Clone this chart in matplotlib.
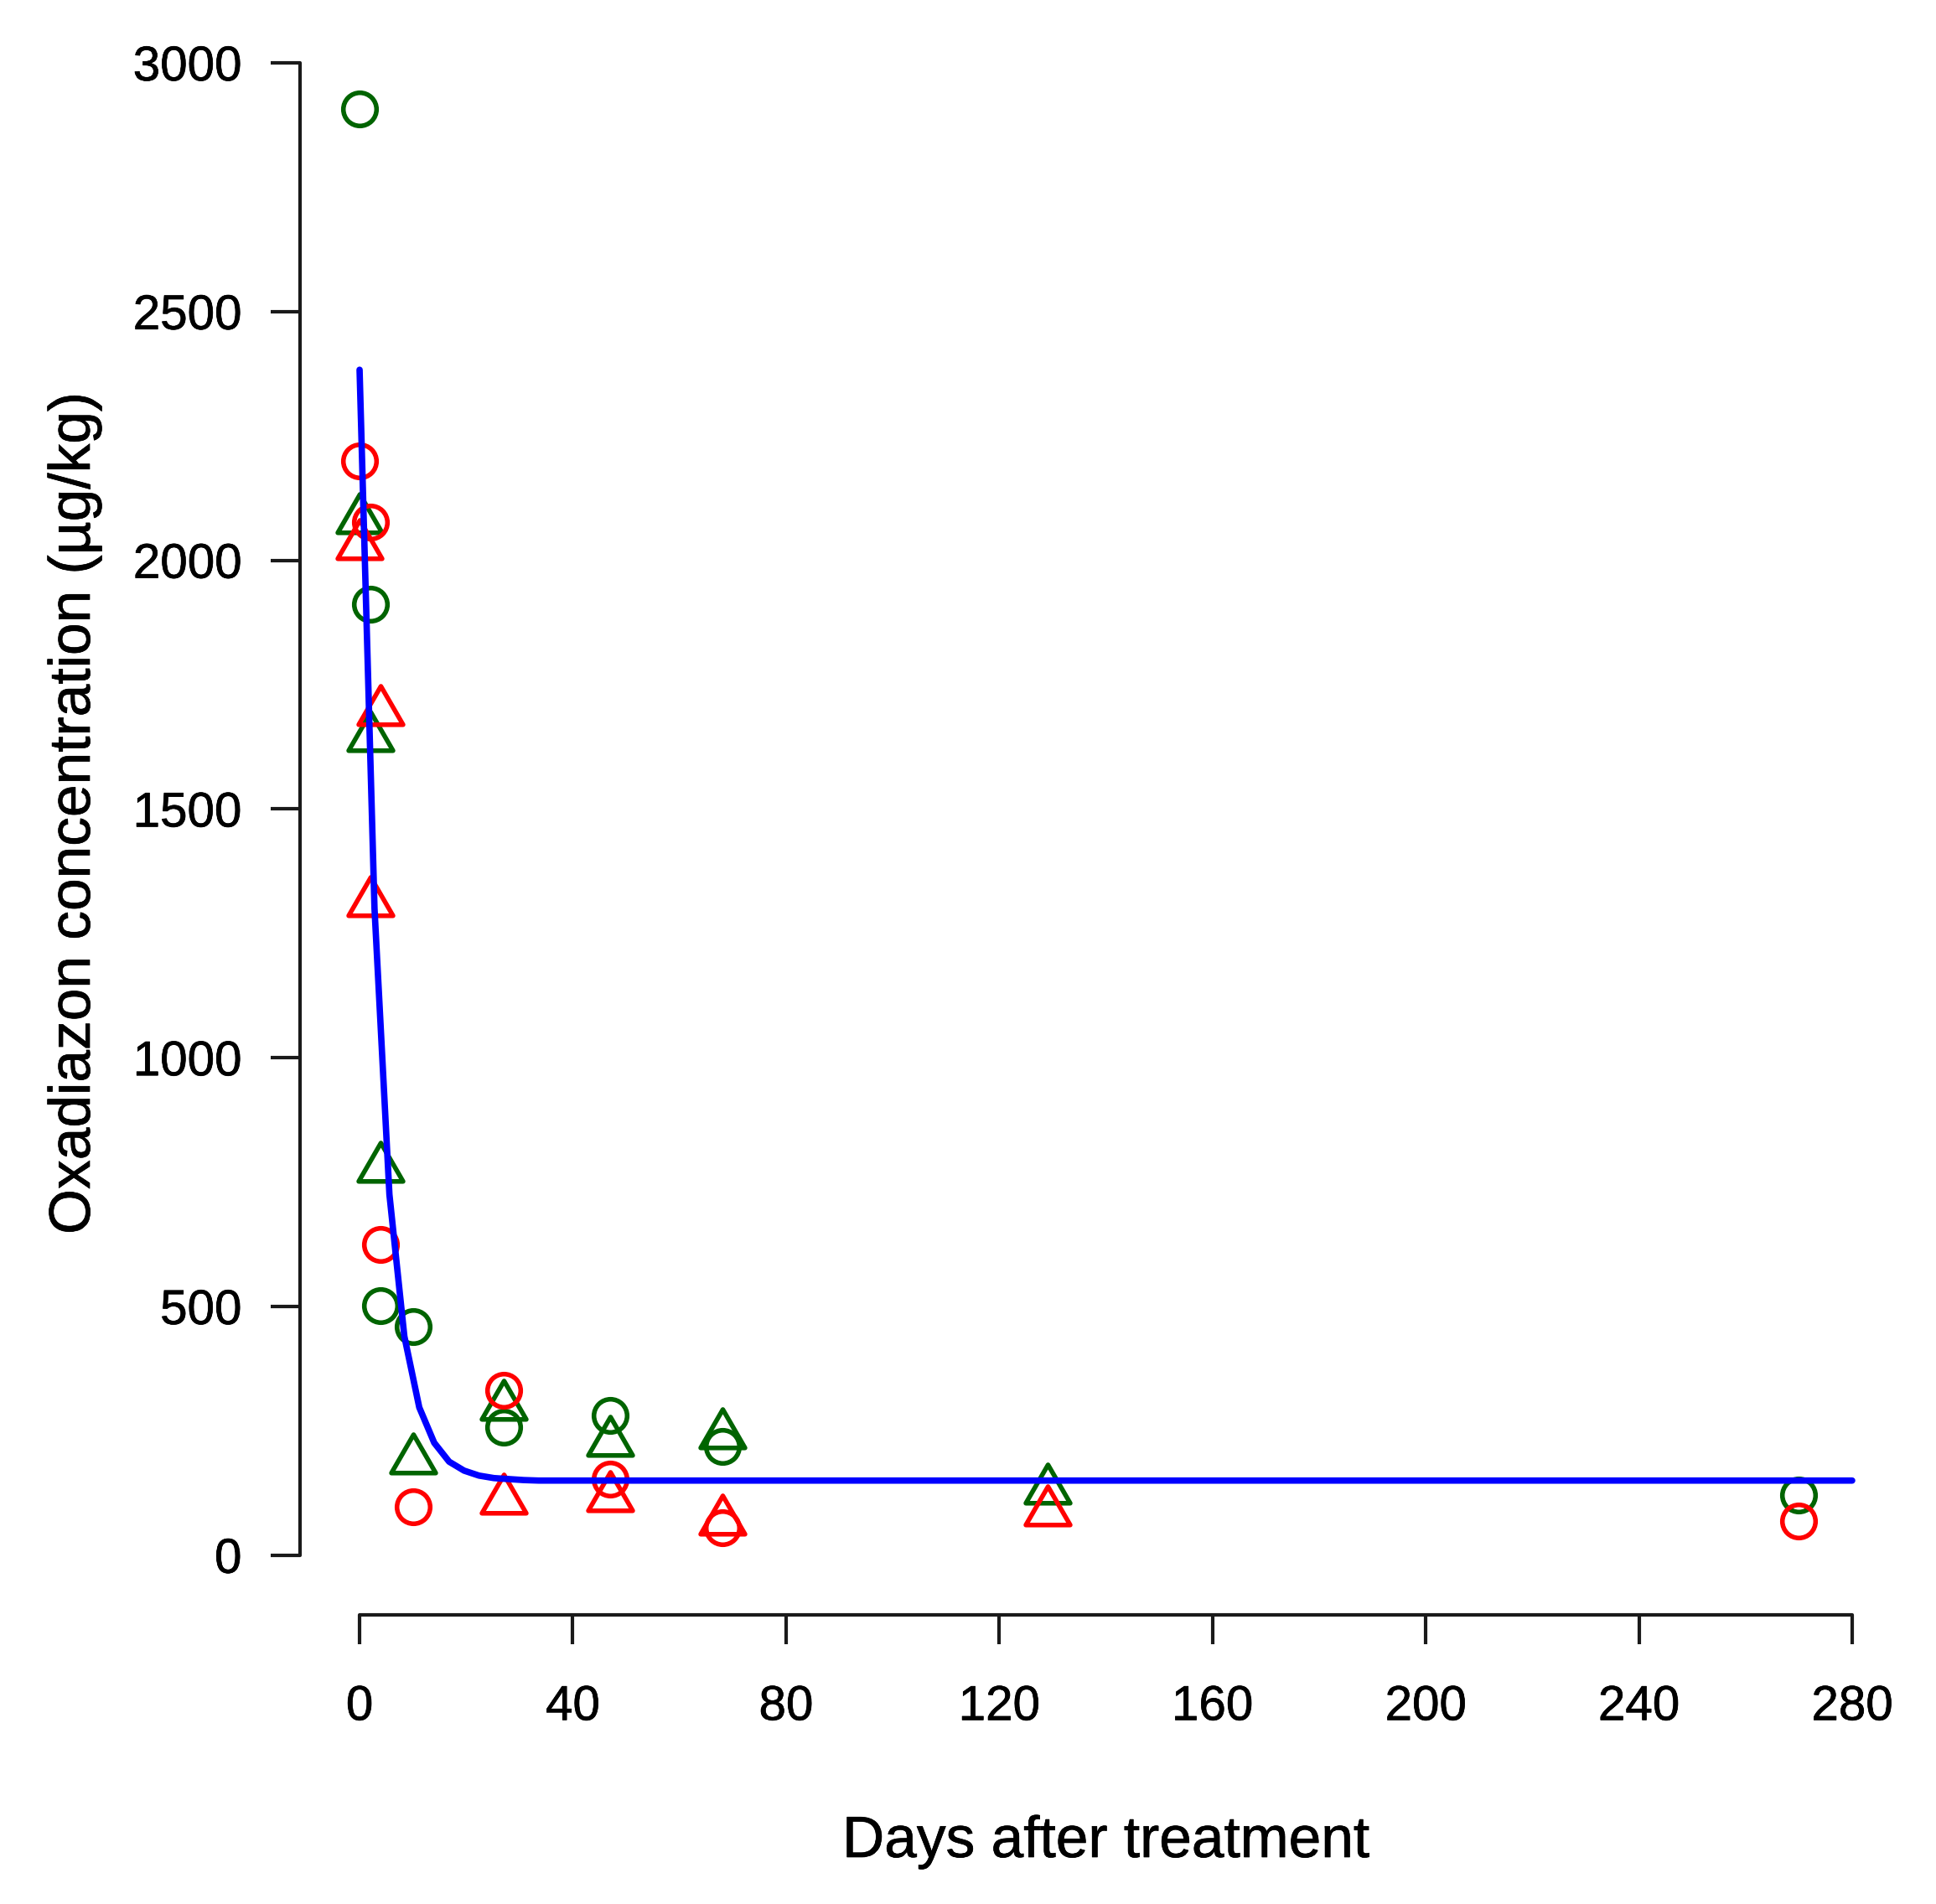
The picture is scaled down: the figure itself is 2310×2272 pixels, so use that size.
import numpy as np
import matplotlib
matplotlib.use("Agg")
import matplotlib.pyplot as plt
import matplotlib.patheffects as pe
from matplotlib.path import Path

plt.rcParams['font.family'] = ['Liberation Sans', 'DejaVu Sans']

# measured residues, one list per replicate / plot
green_circle_days = [0, 2, 4, 10, 27, 47, 68, 270]
green_circle_conc = [2908, 1911, 501, 460, 257, 281, 218, 121]

green_triangle_days = [0, 2, 4, 10, 27, 47, 68, 129]
green_triangle_conc = [2081, 1643, 778, 192, 300, 227, 242, 131]

red_circle_days = [0, 2, 4, 10, 27, 47, 68, 270]
red_circle_conc = [2200, 2076, 625, 97, 331, 153, 55, 68]

red_triangle_days = [0, 2, 4, 27, 47, 68, 129]
red_triangle_conc = [2030, 1312, 1696, 110, 116, 68, 88]

# fitted decay curve
fit_days = [0, 2.8, 5.6, 8.4, 11.2, 14.0, 16.8, 19.6, 22.4, 25.2, 28.0, 30.8, 33.6, 280]
fit_conc = [2383, 1300, 725, 440, 297, 226, 188, 170, 160, 155, 153, 151, 150, 150]

x_ticks = [0, 40, 80, 120, 160, 200, 240, 280]
y_ticks = [0, 500, 1000, 1500, 2000, 2500, 3000]

x_axis_title = "Days after treatment"
y_axis_title = "Oxadiazon concentration (\u00b5g/kg)"

W, H = 2310, 2272
heavy = [pe.withStroke(linewidth=0.5, foreground='black')]

# R style open triangle (pch = 2)
tri = Path([(0, 1), (0.866, -0.5), (-0.866, -0.5), (0, 1)],
           [Path.MOVETO, Path.LINETO, Path.LINETO, Path.CLOSEPOLY])

fig = plt.figure(figsize=(W / 100, H / 100), dpi=100)
ax = fig.add_axes([357.8 / W, 1 - 1927 / H, (2281.2 - 357.8) / W, (1927 - 3.75) / H])

ms_c = 28.5
ms_t = 44
mew = 4.0

ax.plot(green_circle_days, green_circle_conc, linestyle='none', marker='o', ms=ms_c,
        mfc='none', mec='#006400', mew=mew)
ax.plot(green_triangle_days, green_triangle_conc, linestyle='none', marker=tri, ms=ms_t,
        mfc='none', mec='#006400', mew=mew)
ax.plot(red_circle_days, red_circle_conc, linestyle='none', marker='o', ms=ms_c,
        mfc='none', mec='#FF0000', mew=mew)
ax.plot(red_triangle_days, red_triangle_conc, linestyle='none', marker=tri, ms=ms_t,
        mfc='none', mec='#FF0000', mew=mew)

ax.plot(fit_days, fit_conc, color='#0000FF', lw=5.5, solid_capstyle='round', solid_joinstyle='round')

ax.set_xlim(-11.2, 291.2)
ax.set_ylim(-120, 3120)

for side in ['top', 'right']:
    ax.spines[side].set_visible(False)
ax.spines['left'].set_bounds(0, 3000)
ax.spines['bottom'].set_bounds(0, 280)
for side in ['left', 'bottom']:
    ax.spines[side].set_linewidth(3.0)
    ax.spines[side].set_color('#1a1a1a')
    ax.spines[side].set_capstyle('round')

ax.set_xticks(x_ticks)
ax.set_yticks(y_ticks)
ax.set_xticklabels([str(v) for v in x_ticks])
ax.set_yticklabels([str(v) for v in y_ticks])
ax.tick_params(direction='out', length=25, width=3.0, color='#1a1a1a', labelsize=42)
ax.tick_params(axis='x', pad=35)
ax.tick_params(axis='y', pad=25)
for lab in ax.get_xticklabels() + ax.get_yticklabels():
    lab.set_path_effects(heavy)

fig.text(1320 / W, 1 - 2216 / H, x_axis_title, ha='center', va='baseline', fontsize=50,
         path_effects=heavy)
fig.text(107 / W, 1 - 970 / H, y_axis_title, ha='center', va='baseline', fontsize=50,
         rotation=90, rotation_mode='anchor', path_effects=heavy)

fig.savefig("out.png", dpi=100)
